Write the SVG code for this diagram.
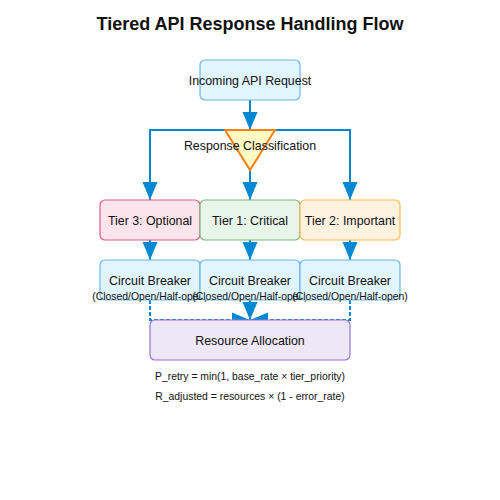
<svg xmlns="http://www.w3.org/2000/svg" width="500" height="500" viewBox="0 0 500 500">
<defs>
<marker id="arr" markerUnits="userSpaceOnUse" markerWidth="18" markerHeight="18" viewBox="0 0 18 18" refX="18" refY="9" orient="auto">
<path d="M0,1.5 L18,9 L0,16.5 Z" fill="#0288d1"/>
</marker>
</defs>
<style>
text{font-family:"Liberation Sans",Arial,sans-serif;fill:#111;text-anchor:middle}
.t{font-size:12.4px}
.s{font-size:10.4px}
.c{fill:none;stroke:#0288d1;stroke-width:2}
.d{stroke-dasharray:4 2}
</style>
<rect width="500" height="500" fill="#fff"/>
<text x="250" y="30" style="font-size:18px;font-weight:bold">Tiered API Response Handling Flow</text>
<g id="connectors">
<path class="c" d="M250,100 V130" marker-end="url(#arr)"/>
<path class="c" d="M225,130 H150 V200" marker-end="url(#arr)"/>
<path class="c" d="M275,130 H350 V200" marker-end="url(#arr)"/>
<path class="c" d="M250,170 V200" marker-end="url(#arr)"/>
<path class="c" d="M150,240 V260" marker-end="url(#arr)"/>
<path class="c" d="M250,240 V260" marker-end="url(#arr)"/>
<path class="c" d="M350,240 V260" marker-end="url(#arr)"/>
<path class="c d" d="M150,300 V320 H250" marker-end="url(#arr)"/>
<path class="c d" d="M350,300 V320 H250" marker-end="url(#arr)"/>
<path class="c d" d="M250,300 V320" marker-end="url(#arr)"/>
</g>
<g id="incoming">
<rect x="200" y="60" width="100" height="40" rx="5" fill="#e1f5fe" stroke="#6ab7e4" stroke-width="1.2"/>
<text class="t" x="250" y="85">Incoming API Request</text>
</g>
<g id="classification">
<path d="M225,130 L275,130 L250,170 Z" fill="#fff9c4" stroke="#f57f17" stroke-width="2"/>
<text class="t" x="250" y="150">Response Classification</text>
</g>
<g id="tier3">
<rect x="100" y="200" width="100" height="40" rx="5" fill="#fce4ec" stroke="#d95c8a" stroke-width="1.2"/>
<text class="t" x="150" y="225">Tier 3: Optional</text>
</g>
<g id="tier1">
<rect x="200" y="200" width="100" height="40" rx="5" fill="#e8f5e9" stroke="#7cb67f" stroke-width="1.2"/>
<text class="t" x="250" y="225">Tier 1: Critical</text>
</g>
<g id="tier2">
<rect x="300" y="200" width="100" height="40" rx="5" fill="#fff3e0" stroke="#ffb74d" stroke-width="1.2"/>
<text class="t" x="350" y="225">Tier 2: Important</text>
</g>
<g id="cb3">
<rect x="100" y="260" width="100" height="40" rx="5" fill="#e1f5fe" stroke="#6ab7e4" stroke-width="1.2"/>
<text class="t" x="150" y="285">Circuit Breaker</text>
<text class="s" x="150" y="300">(Closed/Open/Half-open)</text>
</g>
<g id="cb1">
<rect x="200" y="260" width="100" height="40" rx="5" fill="#e1f5fe" stroke="#6ab7e4" stroke-width="1.2"/>
<text class="t" x="250" y="285">Circuit Breaker</text>
<text class="s" x="250" y="300">(Closed/Open/Half-open)</text>
</g>
<g id="cb2">
<rect x="300" y="260" width="100" height="40" rx="5" fill="#e1f5fe" stroke="#6ab7e4" stroke-width="1.2"/>
<text class="t" x="350" y="285">Circuit Breaker</text>
<text class="s" x="350" y="300">(Closed/Open/Half-open)</text>
</g>
<g id="resource">
<rect x="150" y="320" width="200" height="40" rx="5" fill="#ede7f6" stroke="#9575cd" stroke-width="1.2"/>
<text class="t" x="250" y="345">Resource Allocation</text>
</g>
<g id="formulas">
<text class="s" x="250" y="380">P_retry = min(1, base_rate × tier_priority)</text>
<text class="s" x="250" y="400">R_adjusted = resources × (1 - error_rate)</text>
</g>
</svg>
